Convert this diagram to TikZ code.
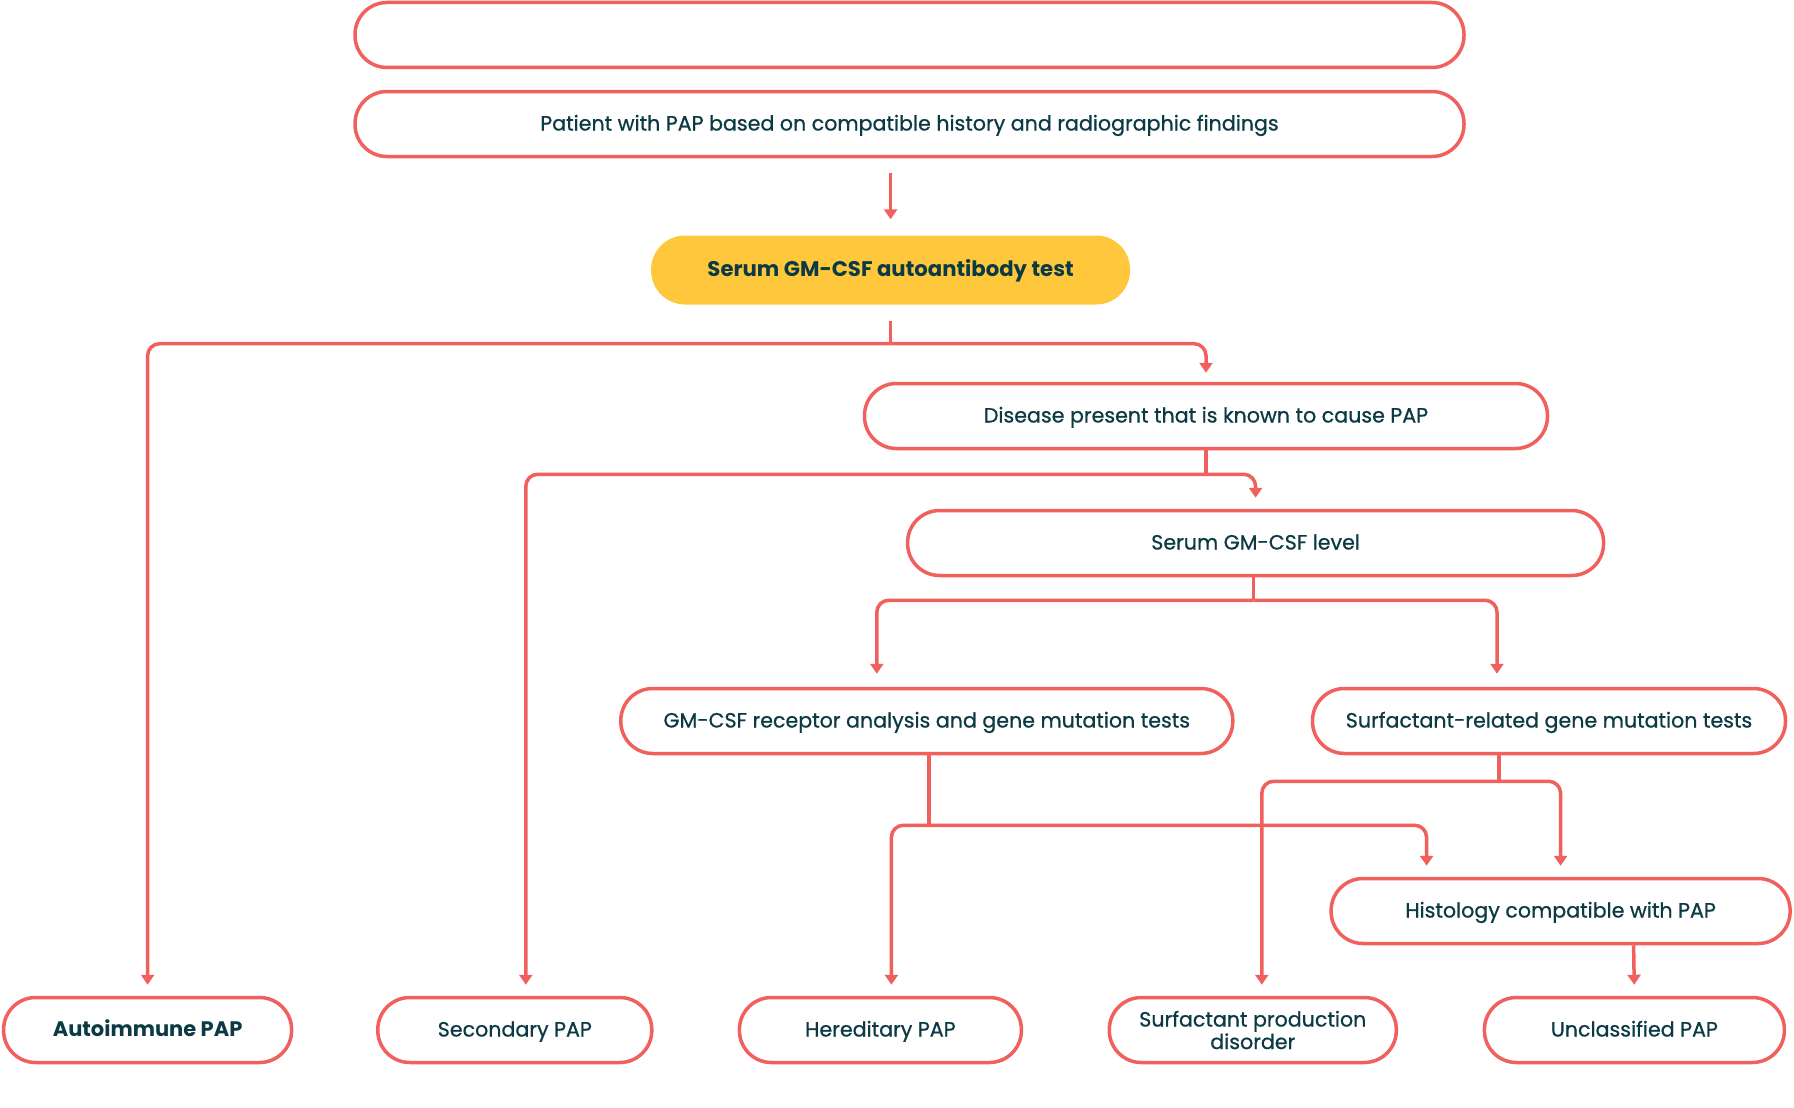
\documentclass[tikz,border=0pt]{standalone}
\usepackage{fontspec}
\setmainfont{Poppins}
\newfontfamily\papfont{Poppins}[FakeBold=0.7]
\usetikzlibrary{arrows.meta}

\definecolor{papred}{HTML}{F0605D}
\definecolor{papyellow}{HTML}{FFC73C}
\definecolor{papteal}{HTML}{0B3A44}

\begin{document}
\begin{tikzpicture} [
x=1pt, y=-1pt,
papnode/.style={rectangle, rounded corners=32pt, draw=papred, line width=3.5pt, fill=white, text=papteal, font=\papfont\fontsize{20.6}{23}\selectfont, minimum height=65pt, align=center, inner sep=0pt, text height=16pt, text depth=3pt},
testnode/.style={rectangle, rounded corners=34pt, fill=papyellow, text=papteal, font=\fontsize{21.2}{23}\selectfont\bfseries, minimum height=69pt, minimum width=479pt, text height=16pt, text depth=3pt},
ghost/.style={text=white, font=\fontsize{15}{18}\selectfont},
link/.style={draw=papred, line width=3.5pt, rounded corners=12pt},
arrowlink/.style={link, -{Triangle[length=10pt,width=13pt]}, shorten >=11pt},
]
\useasboundingbox (0,0) rectangle (1794,1108);

%Nodes
\node[papnode, minimum width=1109pt, font=\fontsize{26}{28}\selectfont\bfseries, text=white] (title) at (909.5,35) {Differential diagnosis of autoimmune PAP\textsuperscript{20}};
\node[papnode, minimum width=1109pt] (patient) at (909.5,124) {Patient with PAP based on compatible history and radiographic findings};
\node[ghost, anchor=east, align=right] (note) at (872,192) {Recommend GM-CSF autoantibody testing for diagnosing autoimmune PAP\\for all patients with suspected or confirmed PAP syndrome};
\node[testnode] (test) at (890.6,270) {Serum GM-CSF autoantibody test};
\node[papnode, minimum width=683pt] (disease) at (1206,416) {Disease present that is known to cause PAP};
\node[papnode, minimum width=696pt] (level) at (1255.6,543) {Serum GM-CSF level};
\node[papnode, minimum width=612pt] (receptor) at (926.8,721) {GM-CSF receptor analysis and gene mutation tests};
\node[papnode, minimum width=473pt] (surfrel) at (1549,721) {Surfactant-related gene mutation tests};
\node[papnode, minimum width=459pt] (histo) at (1560.6,911) {Histology compatible with PAP};
\node[papnode, minimum width=288pt, font=\fontsize{21}{23}\selectfont\bfseries] (auto) at (147.6,1030) {Autoimmune PAP};
\node[papnode, minimum width=274pt] (secondary) at (514.8,1030) {Secondary PAP};
\node[papnode, minimum width=282pt] (hereditary) at (880.4,1030) {Hereditary PAP};
\node[papnode, minimum width=287pt, text height=, text depth=, font=\papfont\fontsize{20.6}{22.5}\selectfont] (surfprod) at (1252.8,1030) {Surfactant production\\disorder};
\node[papnode, minimum width=300pt] (unclass) at (1634.4,1030) {Unclassified PAP};

%Lines
\draw[arrowlink, shorten >=16pt] (patient.south -| test.north) ++(0,15) -- (test.north);
\draw[link] ([yshift=-16pt]test.south) -- ++(0,23) coordinate (testsplit);
\draw[arrowlink] (testsplit) -| (auto.north);
\draw[arrowlink, shorten >=9pt] (testsplit) -| (disease.north);

\draw[link] (disease.south) -- ++(0,24) coordinate (diseasesplit);
\draw[arrowlink] (diseasesplit) -| ([xshift=11pt]secondary.north);
\draw[arrowlink] (diseasesplit) -| (level.north);

\draw[link] ([xshift=-2pt]level.south) -- ++(0,23) coordinate (levelsplit);
\draw[arrowlink, shorten >=13pt] (levelsplit) -| ([xshift=-50pt]receptor.north);
\draw[arrowlink, shorten >=13pt] (levelsplit) -| ([xshift=-52pt]surfrel.north);

\draw[link] ([xshift=2pt]receptor.south) -- ++(0,70) coordinate (receptorsplit);
\draw[arrowlink] (receptorsplit) -| ([xshift=11pt]hereditary.north);
\draw[arrowlink] (receptorsplit) -| ([xshift=-134pt]histo.north);

\draw[link] ([xshift=-50pt]surfrel.south) -- ++(0,26) coordinate (surfrelsplit);
\draw[arrowlink] (surfrelsplit) -| ([xshift=9pt]surfprod.north);
\draw[arrowlink] (surfrelsplit) -| (histo.north);

\draw[arrowlink] ([xshift=73pt]histo.south) -- (unclass.north);

%Labels
\node[ghost] (lab1) at (94,357) {Positive};
\node[ghost] (lab2) at (1262,357) {Negative};
\node[ghost] (lab3) at (468,486) {Present};
\node[ghost] (lab4) at (1312,486) {Absent};
\node[ghost] (lab5) at (826,627) {Positive};
\node[ghost] (lab6) at (1551,627) {Negative};
\node[ghost] (lab7) at (1206,794) {Positive};
\node[ghost] (lab8) at (1620,794) {Negative};
\node[ghost] (lab9) at (834,847) {Positive};
\node[ghost] (lab10) at (1480,847) {Negative};
\node[ghost] (lab11) at (1693,967) {Negative};

\end{tikzpicture}
\end{document}
